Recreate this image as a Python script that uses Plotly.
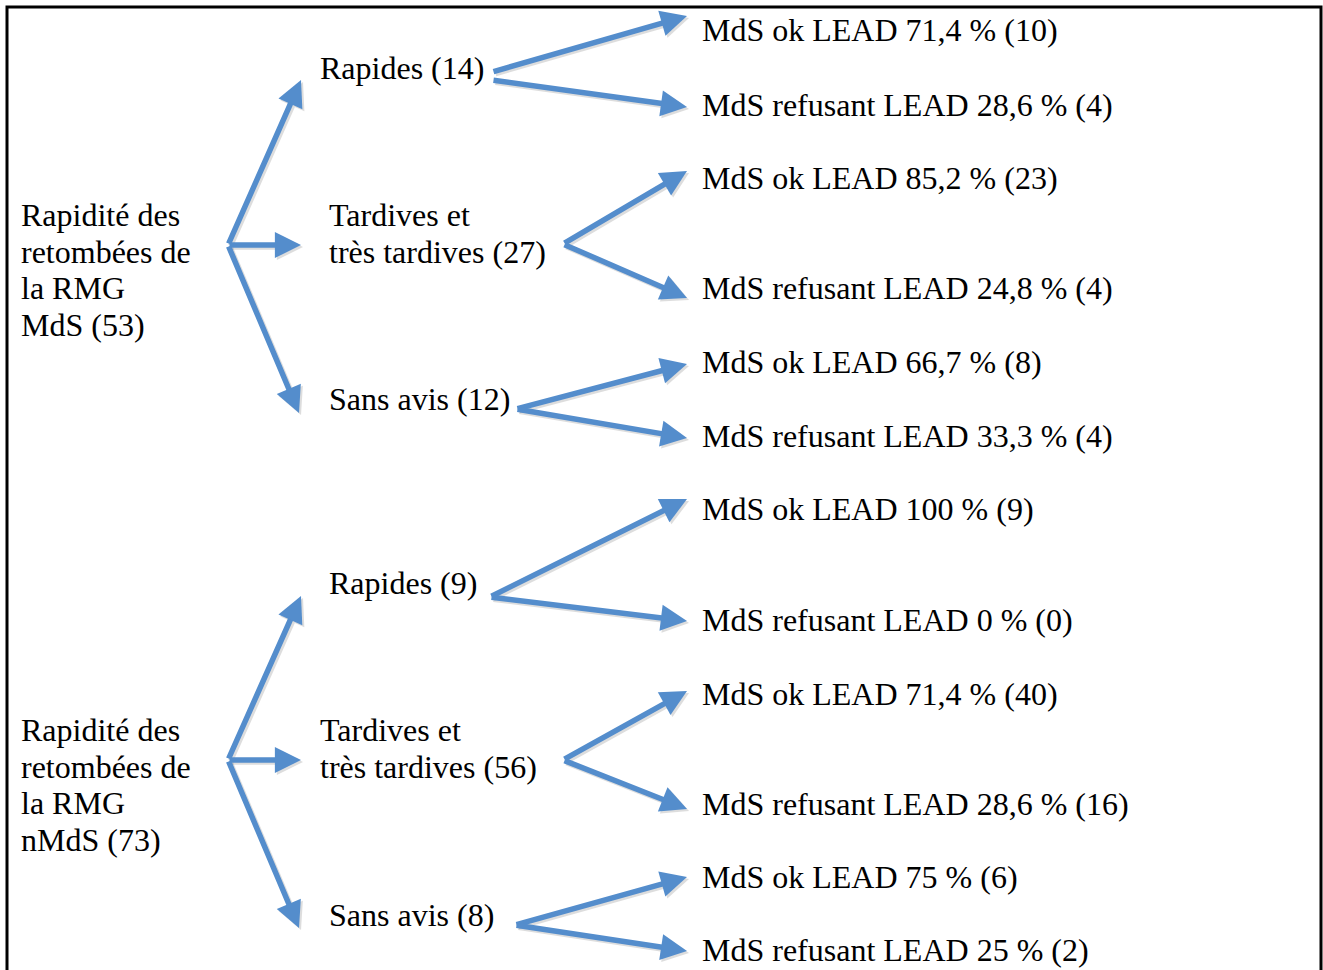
"""
Arbre : rapidité des retombées de la RMG selon MdS / nMdS, puis acceptation du LEAD.
"""
import plotly.graph_objects as go

# données
root_labels = ["Rapidité des<br>retombées de<br>la RMG<br>MdS (53)",
               "Rapidité des<br>retombées de<br>la RMG<br>nMdS (73)"]
branch_names = ["Rapides", "Tardives et<br>très tardives", "Sans avis"]
branch_n = [[14, 27, 12],   # MdS
            [9, 56, 8]]     # nMdS
ok_pct = [["71,4", "85,2", "66,7"],
          ["100", "71,4", "75"]]
ok_n = [[10, 23, 8],
        [9, 40, 6]]
ref_pct = [["28,6", "24,8", "33,3"],
           ["0", "28,6", "25"]]
ref_n = [[4, 4, 4],
         [0, 16, 2]]

# mise en page (pixels)
W, H = 1323, 970
FONT = dict(family="Liberation Serif, Times New Roman, serif", size=32, color="black")
BLUE = "rgb(84,141,204)"
LINE_H = 36.7
PAD = 3  # marge interne des annotations

root_x = 22
root_y = [215, 730]          # première ligne
root_origin = [(228, 245), (228, 760)]
lvl1_tips = [[(301, 80), (301, 245), (299, 413)],
             [(301, 596), (301, 760), (299, 928)]]
lvl1_x = [[321, 330, 330], [330, 321, 330]]
lvl1_y = [[68, 215, 399], [583, 730, 915]]
lvl2_tails = [[[(492, 72), (492, 80)], [(563, 244), (563, 244)], [(516, 409), (516, 409)]],
              [[(490, 597), (490, 597)], [(563, 760), (563, 760)], [(515, 925), (515, 925)]]]
lvl2_tips = [[[(687, 16), (687, 107)], [(687, 171), (687, 298)], [(687, 364), (687, 438)]],
             [[(687, 499), (687, 621)], [(687, 691), (687, 809)], [(687, 877), (687, 951)]]]
lvl2_x = 703
lvl2_y = [[[30, 105], [178, 288], [362, 436]],
          [[509, 620], [694, 804], [877, 950]]]

annotations = []


def texte(x, y, s):
    # une annotation par ligne pour garder l'interligne du modèle
    for i, ligne in enumerate(s.split("<br>")):
        annotations.append(dict(x=x - PAD, y=y + i * LINE_H, xref="x", yref="y", text=ligne,
                                showarrow=False, xanchor="left", yanchor="middle",
                                align="left", font=FONT))


def fleche(tail, tip):
    # ombre légère puis flèche
    for dx, col in ((2, "rgba(0,0,0,0.13)"), (0, BLUE)):
        annotations.append(dict(x=tip[0] + dx, y=tip[1] + dx, ax=tail[0] + dx, ay=tail[1] + dx,
                                xref="x", yref="y", axref="x", ayref="y", text="",
                                showarrow=True, arrowhead=2, arrowsize=0.95, arrowwidth=5.5,
                                arrowcolor=col, standoff=0))


for g in range(2):
    texte(root_x, root_y[g], root_labels[g])
    for b in range(3):
        fleche(root_origin[g], lvl1_tips[g][b])
        texte(lvl1_x[g][b], lvl1_y[g][b], f"{branch_names[b]} ({branch_n[g][b]})")
        fleche(lvl2_tails[g][b][0], lvl2_tips[g][b][0])
        fleche(lvl2_tails[g][b][1], lvl2_tips[g][b][1])
        texte(lvl2_x, lvl2_y[g][b][0], f"MdS ok LEAD {ok_pct[g][b]} % ({ok_n[g][b]})")
        texte(lvl2_x, lvl2_y[g][b][1], f"MdS refusant LEAD {ref_pct[g][b]} % ({ref_n[g][b]})")

fig = go.Figure()
fig.update_layout(
    width=W, height=H,
    margin=dict(l=0, r=0, t=0, b=0),
    paper_bgcolor="white", plot_bgcolor="white",
    xaxis=dict(range=[0, W], visible=False, fixedrange=True),
    yaxis=dict(range=[H, 0], visible=False, fixedrange=True),
    showlegend=False,
    annotations=annotations,
    shapes=[dict(type="rect", xref="x", yref="y", x0=7, y0=7, x1=1321, y1=H + 10,
                 line=dict(color="black", width=3), layer="below")],
)

# la page a une marge de 8 px par défaut : on l'enlève pour caler la figure en (0, 0)
fig.write_html("out.html", config={"displayModeBar": False},
               post_script="document.body.style.margin='0';")
